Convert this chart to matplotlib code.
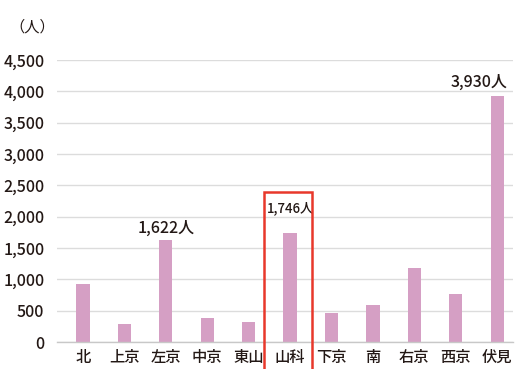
import matplotlib.pyplot as plt
from matplotlib.patches import Rectangle

plt.rcParams['font.family'] = ['Noto Sans CJK JP', 'DejaVu Sans']

# 区ごとの人数
wards = ['北', '上京', '左京', '中京', '東山', '山科', '下京', '南', '右京', '西京', '伏見']
counts = [920, 290, 1622, 390, 320, 1746, 465, 590, 1185, 765, 3930]
yticks = [0, 500, 1000, 1500, 2000, 2500, 3000, 3500, 4000, 4500]

fig = plt.figure(figsize=(5.27, 3.69), dpi=100)
ax = fig.add_axes([0.108, 0.073, 0.866, 0.764])

x = range(len(wards))
ax.bar(x, counts, width=0.32, color='#d59fc4', zorder=2)

ax.set_ylim(0, 4500)
ax.set_xlim(-0.63, 10.39)
ax.set_yticks(yticks)
ax.set_yticklabels(['{:,}'.format(v) for v in yticks], fontsize=11.5,
                   color='#231815', fontweight='medium')
ax.set_xticks(list(x))
ax.set_xticklabels(wards, fontsize=11, color='#231815', fontweight='medium')
ax.tick_params(length=0, pad=5)
ax.tick_params(axis='y', pad=9)

ax.grid(axis='y', color='#dcdcdc', lw=1.0, zorder=0)
for s in ['top', 'right', 'left']:
    ax.spines[s].set_visible(False)
ax.spines['bottom'].set_color('#c8c8c8')
ax.spines['bottom'].set_linewidth(1.0)

# 数値ラベル
ax.text(2, counts[2] + 60, '{:,}人'.format(counts[2]), ha='center', va='bottom',
        fontsize=11.5, color='#231815', fontweight='medium')
ax.text(5, counts[5] + 280, '{:,}人'.format(counts[5]), ha='center', va='bottom',
        fontsize=9.5, color='#231815', fontweight='medium')
ax.text(10.25, counts[10] + 80, '{:,}人'.format(counts[10]), ha='right', va='bottom',
        fontsize=11.5, color='#231815', fontweight='medium')

# 山科を囲む赤枠
ax.add_patch(Rectangle((4.37, -700), 1.16, 3100, fill=False, edgecolor='#e8382b',
                       lw=1.8, clip_on=False, zorder=3))

fig.text(0.017, 0.928, '（人）', fontsize=11, color='#231815', ha='left', va='center')

fig.savefig('out.png', dpi=100)
